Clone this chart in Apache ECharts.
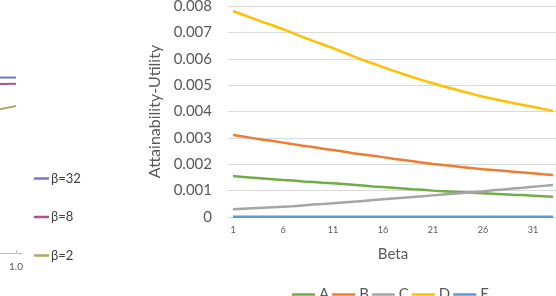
<!DOCTYPE html>
<html>
<head>
<meta charset="utf-8">
<script src="https://cdn.jsdelivr.net/npm/echarts@6/dist/echarts.min.js"></script>
<style>html,body{margin:0;padding:0;background:#fff;}#c{width:556px;height:296px;}</style>
</head>
<body>
<div id="c"></div>
<script>
// Main chart data
var categories = ['1','2','3','4','5','6','7','8','9','10','11','12','13','14','15','16','17','18','19','20','21','22','23','24','25','26','27','28','29','30','31','32','33'];
var seriesA = [0.00155,0.00152,0.00149,0.00146,0.00143,0.00140,0.00138,0.00135,0.00133,0.00130,0.00128,0.00125,0.00122,0.00119,0.00116,0.00114,0.00111,0.00108,0.00105,0.00103,0.00100,0.00098,0.00096,0.00094,0.00092,0.00090,0.00088,0.00086,0.00084,0.00083,0.00081,0.00079,0.00077];
var seriesB = [0.00311,0.00305,0.00299,0.00293,0.00288,0.00282,0.00276,0.00270,0.00265,0.00259,0.00254,0.00248,0.00242,0.00237,0.00232,0.00227,0.00221,0.00216,0.00211,0.00206,0.00201,0.00197,0.00193,0.00189,0.00185,0.00181,0.00178,0.00175,0.00172,0.00169,0.00166,0.00162,0.00159];
var seriesC = [0.00029,0.00031,0.00033,0.00035,0.00037,0.00039,0.00041,0.00044,0.00047,0.00049,0.00052,0.00055,0.00058,0.00061,0.00064,0.00067,0.00070,0.00073,0.00076,0.00079,0.00082,0.00085,0.00088,0.00091,0.00094,0.00097,0.00101,0.00104,0.00108,0.00111,0.00115,0.00118,0.00121];
var seriesD = [0.00781,0.00767,0.00753,0.00739,0.00726,0.00712,0.00697,0.00682,0.00668,0.00654,0.00640,0.00625,0.00610,0.00595,0.00582,0.00568,0.00555,0.00542,0.00530,0.00518,0.00507,0.00496,0.00486,0.00476,0.00466,0.00456,0.00448,0.00440,0.00432,0.00425,0.00418,0.00410,0.00402];
var seriesE = [0.00001,0.00001,0.00001,0.00001,0.00001,0.00001,0.00001,0.00001,0.00001,0.00001,0.00001,0.00001,0.00001,0.00001,0.00001,0.00001,0.00001,0.00001,0.00001,0.00001,0.00001,0.00001,0.00001,0.00001,0.00001,0.00001,0.00001,0.00001,0.00001,0.00001,0.00001,0.00001,0.00001];
var seriesNames = ['A','B','C','D','E'];
var yTicks = {min: 0, max: 0.008, interval: 0.001};

// Partially visible neighbouring chart (left edge)
var leftX = [0.9, 1.0];
var beta32 = [0.753, 0.753];
var beta8 = [0.725, 0.726];
var beta2 = [0.614, 0.631];
var leftNames = ['β=32','β=8','β=2'];

var FONT = 'Lato';
var colors = ['#70ad47','#ed7d31','#a5a5a5','#ffc000','#5b9bd5'];
var leftColors = ['#7878c8','#b0508c','#a8ac68'];

function pairs(xs, ys){ return xs.map(function(x,i){ return [x, ys[i]]; }); }

var chart = echarts.init(document.getElementById('c'));
var mainData = [seriesA, seriesB, seriesC, seriesD, seriesE];
var series = mainData.map(function(d,i){
  return {name: seriesNames[i], type:'line', data:d, xAxisIndex:0, yAxisIndex:0,
    showSymbol:false, symbol:'none', lineStyle:{width:2.5, color:colors[i]}, itemStyle:{color:colors[i]}, z: 3 + (i===4?0:1)};
});
[beta32, beta8, beta2].forEach(function(d,i){
  series.push({name:leftNames[i], type:'line', data:pairs(leftX,d), xAxisIndex:1, yAxisIndex:1,
    showSymbol:false, symbol:'none', lineStyle:{width:2, color:leftColors[i]}, itemStyle:{color:leftColors[i]}});
});

chart.setOption({
  animation:false,
  textStyle:{fontFamily:FONT},
  grid:[
    {left:228, top:6, width:330, bottom:79, outerBoundsMode:'none', containLabel:false},
    {left:-184, top:20, width:206, bottom:43, outerBoundsMode:'none', containLabel:false}
  ],
  legend:[
    {data:seriesNames, left:292, top:287, padding:0, orient:'horizontal', icon:'rect', itemWidth:23, itemHeight:2.5, itemGap:3,
     textStyle:{fontFamily:FONT, fontSize:15, color:'#595959', padding:[0,0,0,-1]}},
    {data:leftNames, left:34, top:172, padding:0, orient:'vertical', icon:'rect', itemWidth:15, itemHeight:2.5, itemGap:25.5,
     textStyle:{fontFamily:FONT, fontSize:13, color:'#404040', padding:[0,0,0,-3]}}
  ],
  xAxis:[
    {type:'category', gridIndex:0, data:categories, boundaryGap:true,
     name:'Beta', nameLocation:'middle', nameGap:30,
     nameTextStyle:{fontFamily:FONT, fontSize:15, color:'#595959'},
     axisLine:{show:true, lineStyle:{color:'#d9d9d9'}}, axisTick:{show:false},
     axisLabel:{interval:4, fontSize:9, color:'#595959', margin:9, fontFamily:FONT},
     splitLine:{show:false}},
    {type:'value', gridIndex:1, min:0, max:1.03, interval:0.2,
     axisLine:{show:true, lineStyle:{color:'#bfbfbf'}},
     axisTick:{show:true, inside:true, length:3, lineStyle:{color:'#bfbfbf'}},
     axisLabel:{showMaxLabel:false, fontSize:10, color:'#595959', margin:9, fontFamily:FONT,
       formatter:function(v){ return v.toFixed(1); }},
     splitLine:{show:false}}
  ],
  yAxis:[
    {type:'value', gridIndex:0, min:yTicks.min, max:yTicks.max, interval:yTicks.interval,
     name:'Attainability-Utility', nameLocation:'middle', nameGap:55,
     nameTextStyle:{fontFamily:FONT, fontSize:16, color:'#595959'},
     axisLine:{show:false}, axisTick:{show:false},
     axisLabel:{fontSize:15, color:'#595959', margin:16, fontFamily:FONT},
     splitLine:{show:true, lineStyle:{color:'#d9d9d9', width:1}}},
    {type:'value', gridIndex:1, min:0, max:1, show:false, splitLine:{show:false}}
  ],
  series: series
});
</script>
</body>
</html>
